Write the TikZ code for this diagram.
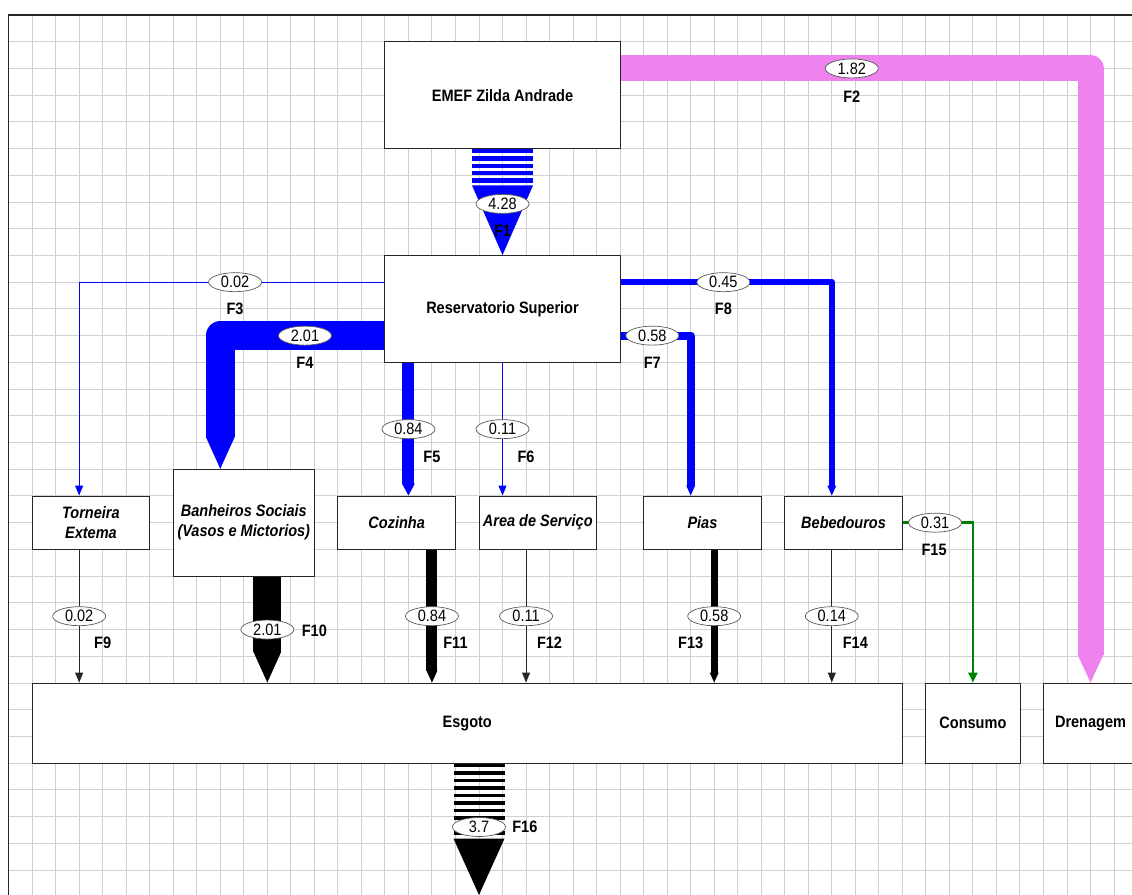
\documentclass[tikz,border=0pt]{standalone}
\usepackage{fontspec}
\setmainfont{Liberation Sans}[FakeStretch=0.88]
\usetikzlibrary{arrows.meta,shapes.geometric,calc}

\definecolor{flowblue}{RGB}{0,0,255}
\definecolor{flowpink}{RGB}{238,130,238}
\definecolor{flowgreen}{RGB}{0,128,0}
\definecolor{gridgray}{RGB}{208,208,208}

\newcommand{\cellw}{23.52pt}
\newcommand{\cellh}{26.72pt}
\newcommand{\basefont}{\fontsize{16.5}{20}\selectfont}

\tikzset{
  gridline/.style={draw=gridgray, line width=1pt},
  box/.style={draw=black!85, fill=white, line width=0.9pt, font=\basefont\bfseries, align=center, inner sep=0pt},
  usebox/.style={box, font=\basefont\bfseries\itshape, minimum width=5*\cellw, minimum height=2*\cellh},
  val/.style={ellipse, draw=black!65, fill=white, line width=0.7pt, minimum width=53pt, minimum height=19pt, inner sep=0pt},
  flab/.style={font=\basefont\bfseries, inner sep=0pt},
  thin/.style={line width=1pt, -{Triangle[width=8pt,length=10pt]}},
  band/.style n args={3}{line width=#1, line join=round, -{Triangle[width=#2,length=#3,line width=0pt]}},
}

\begin{document}
\begin{tikzpicture}[x=\cellw, y=-\cellh, font=\basefont]

\useasboundingbox (-0.3656,-0.5614) rectangle (47.764,32.934);

%%%%%%%%%%%%%%%%%%%%%%%%%%%%%%%%%%%%%%%%%%%%%%%%%%%%%%%%%%%%
% GRID
%%%%%%%%%%%%%%%%%%%%%%%%%%%%%%%%%%%%%%%%%%%%%%%%%%%%%%%%%%%%

\foreach \i in {1,...,48}
  \draw[gridline] (\i,0) -- (\i,33);
\foreach \j in {1,...,33}
  \draw[gridline] (0,\j) -- (48,\j);
\draw[line width=1.4pt, black!85] (48,0) -- (0,0) -- (0,33);

%%%%%%%%%%%%%%%%%%%%%%%%%%%%%%%%%%%%%%%%%%%%%%%%%%%%%%%%%%%%
% Source and reservoir
%%%%%%%%%%%%%%%%%%%%%%%%%%%%%%%%%%%%%%%%%%%%%%%%%%%%%%%%%%%%

\node[
box,
minimum width=10*\cellw,
minimum height=4*\cellh
](emef) at (21,3) {EMEF Zilda Andrade};

\node[
box,
minimum width=10*\cellw,
minimum height=4*\cellh
](res) at (21,11) {Reservatorio Superior};

%%%%%%%%%%%%%%%%%%%%%%%%%%%%%%%%%%%%%%%%%%%%%%%%%%%%%%%%%%%%
% Uses
%%%%%%%%%%%%%%%%%%%%%%%%%%%%%%%%%%%%%%%%%%%%%%%%%%%%%%%%%%%%

\node[usebox](torn) at (3.5,19) {Torneira\\Extema};

\node[
usebox,
minimum width=6*\cellw,
minimum height=4*\cellh
](banh) at (10,19) {Banheiros Sociais\\(Vasos e Mictorios)};

\node[usebox](coz) at (16.5,19) {Cozinha};
\node[usebox](area) at (22.5,19) {Area de Serviço};
\node[usebox](pias) at (29.5,19) {Pias};
\node[usebox](beb) at (35.5,19) {Bebedouros};

%%%%%%%%%%%%%%%%%%%%%%%%%%%%%%%%%%%%%%%%%%%%%%%%%%%%%%%%%%%%
% Outputs
%%%%%%%%%%%%%%%%%%%%%%%%%%%%%%%%%%%%%%%%%%%%%%%%%%%%%%%%%%%%

\node[
box,
minimum width=37*\cellw,
minimum height=3*\cellh
](esg) at (19.5,26.5) {Esgoto};

\node[
box,
minimum width=4*\cellw,
minimum height=3*\cellh
](cons) at (41,26.5) {Consumo};

\node[
box,
minimum width=4*\cellw,
minimum height=3*\cellh
](dren) at (46,26.5) {Drenagem};

%%%%%%%%%%%%%%%%%%%%%%%%%%%%%%%%%%%%%%%%%%%%%%%%%%%%%%%%%%%%
% Flows from the source
%%%%%%%%%%%%%%%%%%%%%%%%%%%%%%%%%%%%%%%%%%%%%%%%%%%%%%%%%%%%

% F1 (striped)
\foreach \i in {0,...,4}
  \fill[flowblue] ([xshift=-30.5pt,yshift=-\i*7.3pt]emef.south) rectangle ++(61pt,-4.4pt);
\fill[flowblue] ([xshift=-30.5pt,yshift=-36.4pt]emef.south) -- ([xshift=30.5pt,yshift=-36.4pt]emef.south) -- (res.north) -- cycle;

% F2
\draw[flowpink, band={26pt}{26pt}{28pt}] (emef.east |- 0,2) -| (dren.north);

%%%%%%%%%%%%%%%%%%%%%%%%%%%%%%%%%%%%%%%%%%%%%%%%%%%%%%%%%%%%
% Flows from the reservoir
%%%%%%%%%%%%%%%%%%%%%%%%%%%%%%%%%%%%%%%%%%%%%%%%%%%%%%%%%%%%

\draw[flowblue, thin] (res.west |- 0,10) -| (torn.north -| 3,0);
\draw[flowblue, band={29pt}{29pt}{32pt}] (res.west |- 0,12) -| (banh.north -| 9,0);
\draw[flowblue, band={12pt}{13pt}{12pt}] (res.south -| 17,0) -- (coz.north -| 17,0);
\draw[flowblue, thin] (res.south) -- (area.north -| res.south);
\draw[flowblue, band={8pt}{9pt}{10pt}] (res.east |- 0,12) -| (pias.north -| 29,0);
\draw[flowblue, band={6pt}{9pt}{10pt}] (res.east |- 0,10) -| (beb.north -| 35,0);

%%%%%%%%%%%%%%%%%%%%%%%%%%%%%%%%%%%%%%%%%%%%%%%%%%%%%%%%%%%%
% Flows to the outputs
%%%%%%%%%%%%%%%%%%%%%%%%%%%%%%%%%%%%%%%%%%%%%%%%%%%%%%%%%%%%

\draw[black!85, thin] (torn.south -| 3,0) -- (esg.north -| 3,0);
\draw[black, band={28pt}{28pt}{31pt}] (banh.south -| 11,0) -- (esg.north -| 11,0);
\draw[black, band={11pt}{11pt}{12pt}] (coz.south -| 18,0) -- (esg.north -| 18,0);
\draw[black!85, thin] (area.south -| 22,0) -- (esg.north -| 22,0);
\draw[black, band={7pt}{9pt}{10pt}] (pias.south -| 30,0) -- (esg.north -| 30,0);
\draw[black!85, thin] (beb.south -| 35,0) -- (esg.north -| 35,0);
\draw[flowgreen, line width=2.5pt, -{Triangle[width=9pt,length=10pt]}] (beb.east |- 0,19) -| (cons.north);

% F16 (striped)
\coordinate (f16) at (esg.south -| 20,0);
\coordinate (out) at (20,32.934);
\foreach \i in {0,...,9}
  \fill ([xshift=-25.5pt,yshift=-\i*7.5pt]f16) rectangle ++(51pt,-3.8pt);
\fill ([xshift=-25.5pt,yshift=-75pt]f16) -- ([xshift=25.5pt,yshift=-75pt]f16) -- (out) -- cycle;

%%%%%%%%%%%%%%%%%%%%%%%%%%%%%%%%%%%%%%%%%%%%%%%%%%%%%%%%%%%%
% Values and flow names
%%%%%%%%%%%%%%%%%%%%%%%%%%%%%%%%%%%%%%%%%%%%%%%%%%%%%%%%%%%%

\node[val](v1) at (21,7.07) {4.28};      \node[flab](l1) at (21,8.08) {F1};
\node[val](v2) at (35.85,2) {1.82};      \node[flab](l2) at (35.85,3.07) {F2};
\node[val](v3) at (9.63,10) {0.02};      \node[flab](l3) at (9.63,11) {F3};
\node[val](v4) at (12.6,12) {2.01};      \node[flab](l4) at (12.6,13) {F4};
\node[val](v5) at (17,15.5) {0.84};      \node[flab](l5) at (18,16.54) {F5};
\node[val](v6) at (21,15.5) {0.11};      \node[flab](l6) at (22,16.54) {F6};
\node[val](v7) at (27.37,12) {0.58};     \node[flab](l7) at (27.37,13) {F7};
\node[val](v8) at (30.39,10) {0.45};     \node[flab](l8) at (30.39,11) {F8};
\node[val](v9) at (3,22.5) {0.02};       \node[flab](l9) at (4,23.5) {F9};
\node[val](v10) at (11,23) {2.01};       \node[flab](l10) at (13,23.05) {F10};
\node[val](v11) at (18,22.5) {0.84};     \node[flab](l11) at (19,23.5) {F11};
\node[val](v12) at (22,22.5) {0.11};     \node[flab](l12) at (23,23.5) {F12};
\node[val](v13) at (30,22.5) {0.58};     \node[flab](l13) at (29,23.5) {F13};
\node[val](v14) at (35,22.5) {0.14};     \node[flab](l14) at (36,23.5) {F14};
\node[val](v15) at (39.39,19) {0.31};    \node[flab](l15) at (39.35,20.02) {F15};
\node[val](v16) at (20,30.39) {3.7};     \node[flab](l16) at (21.95,30.39) {F16};

\end{tikzpicture}
\end{document}
